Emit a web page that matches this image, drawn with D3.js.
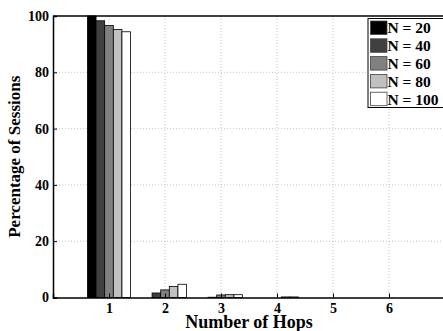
<!DOCTYPE html>
<html>
<head>
<style>
  body { margin: 0; background: #fff; }
  svg { display: block; font-family: "Liberation Serif", "Times New Roman", serif; font-weight: bold; }
</style>
<script src="https://d3js.org/d3.v7.min.js"></script>
</head>
<body>
<script>
  const hops = [1, 2, 3, 4, 5, 6];
  const seriesNames = ['N = 20', 'N = 40', 'N = 60', 'N = 80', 'N = 100'];
  const n20 = [100, 0, 0, 0, 0, 0];
  const n40 = [98.3, 1.6, 0.1, 0, 0, 0];
  const n60 = [96.6, 2.7, 0.9, 0, 0, 0];
  const n80 = [95.2, 3.9, 1.0, 0.2, 0, 0];
  const n100 = [94.4, 4.7, 1.0, 0.2, 0, 0];
  const yTicks = [0, 20, 40, 60, 80, 100];

  const allSeries = [n20, n40, n60, n80, n100];
  const fills = ['#000000', '#404040', '#808080', '#c0c0c0', '#ffffff'];

  const width = 443, height = 331;
  const padLeft = 53, padTop = 16, padBottom = 297.5, padRight = 445;

  const svg = d3.select('body').append('svg')
    .attr('width', width)
    .attr('height', height);

  const x = d3.scaleLinear().domain([0, 7]).range([padLeft, padRight]);
  const y = d3.scaleLinear().domain([0, 100]).range([padBottom, padTop]);

  // grid
  const grid = svg.append('g')
    .attr('stroke', '#b8b8b8')
    .attr('stroke-width', 0.8)
    .attr('stroke-dasharray', '1,2');
  grid.selectAll('.gy')
    .data(yTicks.slice(1, -1))
    .enter().append('line')
    .attr('x1', padLeft).attr('x2', padRight)
    .attr('y1', d => y(d)).attr('y2', d => y(d));
  grid.selectAll('.gx')
    .data(hops)
    .enter().append('line')
    .attr('x1', d => x(d)).attr('x2', d => x(d))
    .attr('y1', padTop).attr('y2', padBottom);

  // bars
  const groupWidth = 0.77;
  const bw = groupWidth / allSeries.length;
  allSeries.forEach((vals, s) => {
    svg.append('g')
      .selectAll('rect')
      .data(hops.map((h, i) => ({ h, v: vals[i] })).filter(d => d.v > 0))
      .enter().append('rect')
      .attr('x', d => x(d.h - groupWidth / 2 + s * bw))
      .attr('width', x(bw) - x(0))
      .attr('y', d => y(d.v))
      .attr('height', d => y(0) - y(d.v))
      .attr('fill', fills[s])
      .attr('stroke', '#000')
      .attr('stroke-width', 0.8);
  });

  // axes
  const xAxis = d3.axisBottom(x).tickValues(hops).tickSize(-4).tickPadding(5.5).tickFormat(d3.format('d'));
  const gx = svg.append('g')
    .attr('transform', `translate(0,${padBottom})`)
    .call(xAxis);
  gx.select('.domain').attr('stroke', '#000').attr('stroke-width', 1.5);

  const yAxis = d3.axisLeft(y).tickValues(yTicks).tickSize(-4).tickPadding(4);
  const gy = svg.append('g')
    .attr('transform', `translate(${padLeft},0)`)
    .call(yAxis);
  gy.select('.domain').attr('stroke', '#000').attr('stroke-width', 1.5);

  svg.selectAll('.tick text')
    .attr('font-family', '"Liberation Serif", serif')
    .attr('font-weight', 'bold')
    .attr('font-size', 14)
    .attr('fill', '#000');

  // top border
  svg.append('line')
    .attr('x1', padLeft).attr('x2', padRight)
    .attr('y1', padTop).attr('y2', padTop)
    .attr('stroke', '#000').attr('stroke-width', 1.5);

  // axis labels
  svg.append('text')
    .attr('x', (padLeft + padRight) / 2).attr('y', 327.5)
    .attr('text-anchor', 'middle')
    .attr('font-size', 18)
    .text('Number of Hops');

  svg.append('text')
    .attr('transform', `translate(20,${(padTop + padBottom) / 2}) rotate(-90)`)
    .attr('text-anchor', 'middle')
    .attr('font-size', 17)
    .text('Percentage of Sessions');

  // legend
  const lg = svg.append('g').attr('transform', 'translate(368,18.5)');
  lg.append('rect')
    .attr('width', 76).attr('height', 89)
    .attr('fill', '#fff').attr('stroke', '#000').attr('stroke-width', 1);
  seriesNames.forEach((name, i) => {
    const row = lg.append('g').attr('transform', `translate(2.5,${2.5 + i * 17.8})`);
    row.append('rect')
      .attr('width', 16.5).attr('height', 13.5)
      .attr('fill', fills[i]).attr('stroke', '#444').attr('stroke-width', 0.8);
    row.append('text')
      .attr('x', 17).attr('y', 12.3)
      .attr('font-size', 15.5)
      .text(name);
  });
</script>
</body>
</html>
